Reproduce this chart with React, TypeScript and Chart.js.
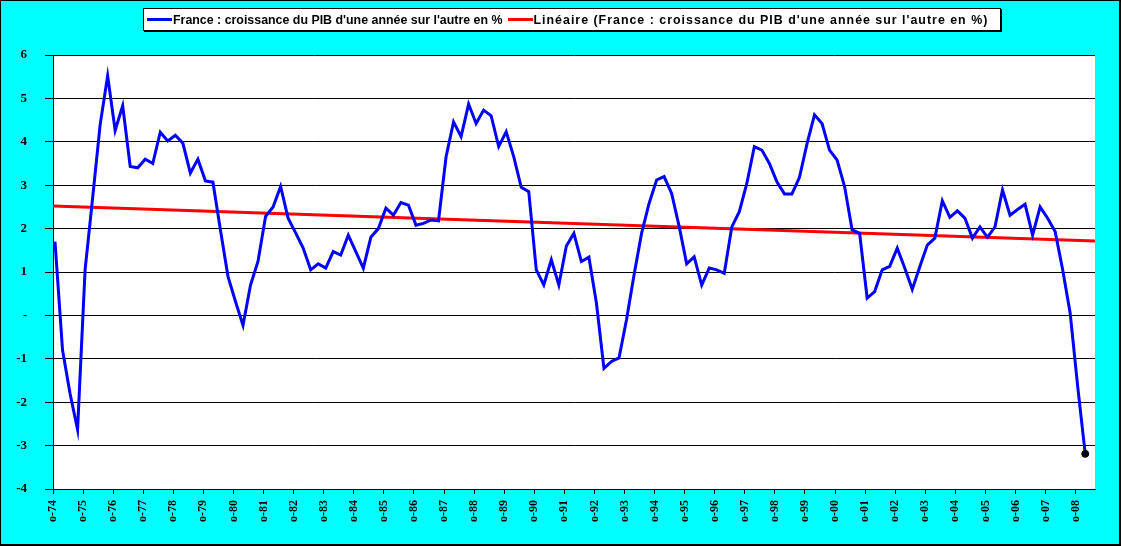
import { Chart, registerables } from "chart.js";
import { useEffect, useRef } from "react";

Chart.register(...registerables);

// tick labels, one per year (october)
const yearTicks = [
  "o-74", "o-75", "o-76", "o-77", "o-78", "o-79", "o-80", "o-81", "o-82", "o-83",
  "o-84", "o-85", "o-86", "o-87", "o-88", "o-89", "o-90", "o-91", "o-92", "o-93",
  "o-94", "o-95", "o-96", "o-97", "o-98", "o-99", "o-00", "o-01", "o-02", "o-03",
  "o-04", "o-05", "o-06", "o-07", "o-08",
];

// quarterly year-on-year GDP growth, %, from Q4 1974
const growth = [
  1.7, -0.8, -1.8, -2.63, 1.05, 2.7, 4.39, 5.52, 4.26, 4.83, 3.43, 3.4, 3.6, 3.5, 4.22, 4.02,
  4.15, 3.97, 3.28, 3.6, 3.1, 3.07, 1.97, 0.9, 0.32, -0.23, 0.7, 1.25, 2.28, 2.5, 2.97, 2.24,
  1.9, 1.55, 1.05, 1.19, 1.09, 1.47, 1.39, 1.85, 1.47, 1.09, 1.8, 2.0, 2.47, 2.31, 2.6, 2.54,
  2.08, 2.12, 2.2, 2.18, 3.65, 4.46, 4.12, 4.87, 4.42, 4.73, 4.6, 3.89, 4.23, 3.66, 2.95, 2.85,
  1.05, 0.7, 1.28, 0.7, 1.6, 1.89, 1.24, 1.34, 0.28, -1.22, -1.06, -0.98, -0.1, 0.93, 1.89, 2.58,
  3.12, 3.2, 2.81, 2.05, 1.19, 1.35, 0.7, 1.09, 1.05, 0.97, 2.04, 2.39, 3.04, 3.89, 3.81, 3.5,
  3.08, 2.8, 2.8, 3.18, 3.95, 4.62, 4.42, 3.81, 3.58, 2.97, 1.97, 1.89, 0.4, 0.55, 1.05, 1.13,
  1.55, 1.09, 0.6, 1.12, 1.62, 1.78, 2.64, 2.26, 2.41, 2.24, 1.78, 2.04, 1.8, 2.04, 2.89, 2.31,
  2.44, 2.56, 1.85, 2.5, 2.24, 1.93, 1.05, 0.05, -1.64, -3.19,
];

const seriesLabel = "France : croissance du PIB d'une année sur l'autre en %";
const trendLabel = "Linéaire (France : croissance du PIB d'une année sur l'autre en %)";

// x axis in months since october 1974
const firstPointMonth = 0.8;
const monthsPerQuarter = 3;
const axisMaxMonth = 415.7;

const serif = "'Liberation Serif', 'Times New Roman', serif";

const plotBackground = {
  id: "plotBackground",
  beforeDraw(chart: Chart) {
    const { ctx, chartArea } = chart;
    ctx.save();
    ctx.fillStyle = "#ffffff";
    ctx.fillRect(chartArea.left, chartArea.top, chartArea.right - chartArea.left, chartArea.bottom - chartArea.top);
    ctx.restore();
  },
};

function LegendLine({ color }: { color: string }) {
  return <span style={{ display: "inline-block", width: 25, height: 3, background: color }} />;
}

export default function App() {
  const chartRef = useRef<HTMLCanvasElement>(null);
  const chartInstance = useRef<Chart | null>(null);

  useEffect(() => {
    document.body.style.margin = "0";
    if (!chartRef.current) return;
    const ctx = chartRef.current.getContext("2d");
    if (!ctx) return;
    if (chartInstance.current) chartInstance.current.destroy();

    const points = growth.map((v, i) => ({ x: firstPointMonth + i * monthsPerQuarter, y: v }));

    // least squares trend, like the spreadsheet's linear trendline
    const n = points.length;
    const mx = points.reduce((s, p) => s + p.x, 0) / n;
    const my = points.reduce((s, p) => s + p.y, 0) / n;
    let sxy = 0;
    let sxx = 0;
    points.forEach((p) => {
      sxy += (p.x - mx) * (p.y - my);
      sxx += (p.x - mx) * (p.x - mx);
    });
    const slope = sxy / sxx;
    const trend = [0, axisMaxMonth].map((x) => ({ x, y: my + slope * (x - mx) }));

    const last = points.length - 1;

    chartInstance.current = new Chart(ctx, {
      type: "line",
      data: {
        datasets: [
          {
            label: seriesLabel,
            data: points,
            borderColor: "#0000ff",
            borderWidth: 3,
            tension: 0,
            pointRadius: (c: any) => (c.dataIndex === last ? 3.5 : 0),
            pointBackgroundColor: "#000000",
            pointBorderColor: "#000000",
            pointBorderWidth: 1,
          },
          {
            label: trendLabel,
            data: trend,
            borderColor: "#ff0000",
            borderWidth: 3,
            pointRadius: 0,
          },
        ],
      },
      options: {
        animation: false,
        responsive: true,
        maintainAspectRatio: false,
        layout: { padding: { top: 54, right: 24, left: 0, bottom: 0 } },
        plugins: {
          legend: { display: false },
          tooltip: { enabled: false },
        },
        scales: {
          x: {
            type: "linear",
            min: 0,
            max: axisMaxMonth,
            afterFit: (scale: any) => {
              scale.height = 55;
            },
            ticks: {
              stepSize: 12,
              autoSkip: false,
              includeBounds: false,
              maxRotation: 90,
              minRotation: 90,
              padding: 6,
              color: "#000000",
              font: { family: serif, size: 12, weight: "bold" },
              callback: (value: any) => {
                const k = Number(value) / 12;
                return Number.isInteger(k) ? yearTicks[k] ?? "" : "";
              },
            },
            grid: { drawOnChartArea: false, drawTicks: true, tickLength: 5, color: "#000000" },
            border: { display: true, color: "#000000", width: 1 },
          },
          y: {
            min: -4,
            max: 6,
            afterFit: (scale: any) => {
              scale.width = 52;
            },
            ticks: {
              stepSize: 1,
              padding: 18,
              color: "#000000",
              font: { family: serif, size: 13, weight: "bold" },
              callback: (value: any) => (Number(value) === 0 ? "-" : String(value)),
            },
            grid: { color: "#000000", lineWidth: 1, tickLength: 8 },
            border: { display: true, color: "#000000", width: 1 },
          },
        },
      },
      plugins: [plotBackground],
    });

    return () => {
      if (chartInstance.current) {
        chartInstance.current.destroy();
        chartInstance.current = null;
      }
    };
  }, []);

  const legendText = {
    fontFamily: "'Liberation Sans', Arial, sans-serif",
    fontWeight: "bold" as const,
    fontSize: 12.4,
    whiteSpace: "nowrap" as const,
  };

  return (
    <div
      style={{
        position: "relative",
        width: 1121,
        height: 546,
        boxSizing: "border-box",
        background: "#00ffff",
        borderStyle: "solid",
        borderColor: "#000000",
        borderWidth: "1px 2px 2px 1px",
      }}
    >
      <div style={{ position: "absolute", left: 0, top: 0, width: 1118, height: 543 }}>
        <canvas ref={chartRef}></canvas>
      </div>
      <div
        style={{
          position: "absolute",
          left: 142,
          top: 7,
          width: 853,
          height: 21,
          background: "#ffffff",
          border: "1px solid #000000",
          boxShadow: "1px 1px 0 #000000",
          display: "flex",
          alignItems: "center",
          paddingLeft: 3,
          boxSizing: "content-box",
          ...legendText,
        }}
      >
        <LegendLine color="#0000ff" />
        <span style={{ marginLeft: 1 }}>{seriesLabel}</span>
        <span style={{ marginLeft: 5, display: "inline-flex" }}>
          <LegendLine color="#ff0000" />
        </span>
        <span style={{ marginLeft: 1, letterSpacing: 1 }}>{trendLabel}</span>
      </div>
    </div>
  );
}
